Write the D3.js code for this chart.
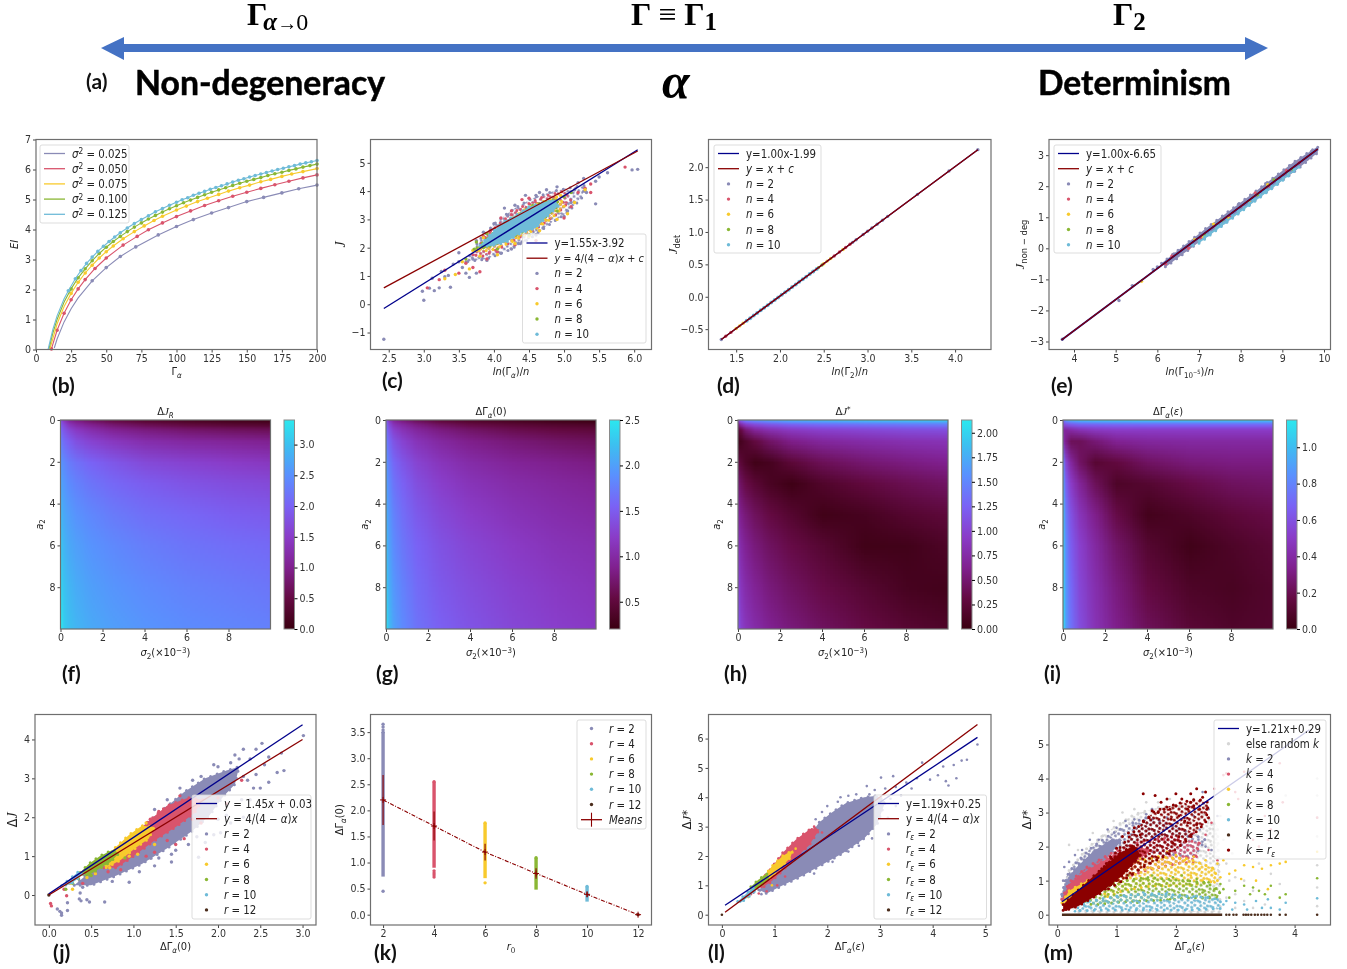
<!DOCTYPE html>
<html>
<head>
<meta charset="utf-8">
<script src="https://cdnjs.cloudflare.com/ajax/libs/d3/7.8.5/d3.min.js"></script>
<style>
html, body { margin:0; padding:0; background:#fff; }
#wrap { position:relative; width:1347px; height:969px; filter:blur(0.45px); }
canvas, svg { position:absolute; left:0; top:0; }
text { font-family:"DejaVu Sans Condensed","DejaVu Sans",sans-serif; fill:#222; }
</style>
</head>
<body>
<div id="wrap"><canvas id="heat" width="1347" height="969"></canvas><svg width="1347" height="969"></svg></div>
<script>
// colours
var cGray = "#8a8bb6", cRed = "#d9546c", cYellow = "#f8ca2c", cGreen = "#8ab734", cBlue = "#6fbbd8", cBrown = "#4b2d1c";
var cFit = "#00008b", cTheory = "#8b0000", cElse = "#d6d6d6";

// (b) EI curves, [gamma, EI]
var ei025 = [[13,0.05],[15,0.35],[20,0.92],[25,1.36],[30,1.72],[40,2.29],[50,2.73],[60,3.1],[71,3.42],[87,3.82],[100,4.1],[112,4.33],[125,4.55],[137,4.73],[150,4.93],[162,5.07],[175,5.22],[187,5.36],[200,5.48]];
var ei050 = [[11,0.02],[15,0.64],[20,1.21],[25,1.66],[30,2.02],[35,2.33],[42,2.7],[50,3.05],[62,3.48],[72,3.77],[80,3.99],[90,4.22],[100,4.43],[110,4.62],[120,4.8],[130,4.96],[140,5.11],[150,5.24],[160,5.37],[170,5.49],[180,5.61],[190,5.72],[200,5.82]];
var ei075 = [[10,0.04],[15,0.85],[20,1.43],[25,1.87],[30,2.24],[35,2.55],[40,2.81],[45,3.05],[50,3.26],[55,3.45],[62,3.69],[70,3.93],[77,4.12],[84,4.3],[90,4.44],[100,4.65],[107,4.78],[115,4.93],[122,5.04],[130,5.17],[137,5.28],[145,5.39],[152,5.48],[160,5.59],[167,5.67],[175,5.77],[182,5.85],[190,5.93],[200,6.03]];
var ei100 = [[9.1,0],[12,0.55],[15,1],[20,1.58],[25,2.02],[30,2.39],[35,2.69],[40,2.96],[45,3.2],[50,3.41],[55,3.6],[60,3.77],[65,3.93],[70,4.08],[75,4.22],[80,4.35],[85,4.47],[90,4.58],[95,4.69],[100,4.79],[105,4.89],[110,4.98],[115,5.07],[120,5.16],[125,5.24],[130,5.32],[135,5.39],[140,5.47],[145,5.54],[150,5.61],[155,5.67],[160,5.73],[165,5.8],[170,5.86],[175,5.91],[180,5.97],[185,6.02],[190,6.08],[195,6.13],[200,6.18]];
var ei125 = [[8.6,0],[12,0.67],[15,1.12],[20,1.69],[23,1.96],[28,2.36],[32,2.63],[36,2.87],[40,3.08],[44,3.27],[48,3.44],[52,3.6],[56,3.75],[60,3.89],[65,4.05],[70,4.2],[75,4.33],[80,4.46],[85,4.59],[90,4.7],[95,4.81],[100,4.91],[104,4.99],[108,5.06],[112,5.14],[116,5.21],[120,5.27],[124,5.34],[128,5.4],[132,5.46],[136,5.52],[140,5.58],[144,5.64],[148,5.69],[152,5.75],[156,5.8],[160,5.85],[164,5.9],[168,5.95],[172,6],[176,6.04],[180,6.09],[184,6.13],[188,6.18],[192,6.22],[196,6.26],[200,6.3]];
var sigmaLabels = ["0.025", "0.050", "0.075", "0.100", "0.125"];

// (c) clouds and stray points
var cFitLine = [[2.43,-0.15],[6.05,5.46]];
var cTheoryLine = [[2.43,0.58],[6.05,5.42]];
var cGrayCloud = [[3.6,1.5],[3.8,2.3],[4.05,2.95],[4.3,3.4],[4.55,3.75],[4.85,4],[5.15,4.15],[5.3,4.2],[5.25,3.75],[5.05,3.25],[4.75,2.75],[4.5,2.3],[4.2,1.9],[3.9,1.6]];
var cRedCloud = [[3.7,1.75],[3.9,2.45],[4.15,3],[4.4,3.45],[4.7,3.8],[5,4],[5.1,3.7],[4.9,3.2],[4.65,2.75],[4.35,2.35],[4.1,2],[3.85,1.7]];
var cYellowCloud = [[3.75,1.9],[3.95,2.4],[4.2,2.95],[4.5,3.45],[4.9,3.8],[5.02,3.5],[4.8,3],[4.55,2.6],[4.25,2.2],[3.95,1.9]];
var cGreenCloud = [[3.76,2],[3.98,2.5],[4.25,3],[4.55,3.5],[4.9,3.72],[4.92,3.5],[4.7,3],[4.45,2.6],[4.15,2.25],[3.9,2]];
var cBlueCloud = [[3.8,2.08],[3.98,2.55],[4.12,2.9],[4.35,3.2],[4.5,3.45],[4.85,3.7],[4.93,3.5],[4.72,3.02],[4.6,2.7],[4.35,2.48],[4.18,2.2],[3.95,2.05]];
var cGrayPts = [[2.43,-1.24],[2.98,0.46],[3,0.14],[3.08,0.57],[3.12,0.92],[3.15,0.48],[3.22,0.58],[3.25,1.16],[3.3,0.97],[3.35,1.02],[3.38,0.6],[3.42,1.42],[3.5,1.5],[3.5,1.82],[3.55,1.3],[3.6,1.1],[3.65,0.95],[3.7,1.6],[3.75,1.1],[3.85,2.55],[4,2.85],[4.15,3.4],[4.3,3.5],[4.45,3.85],[4.65,3.95],[4.75,4.05],[4.85,3.7],[5,3.1],[5.1,3.6],[5.2,4.3],[5.28,4.45],[5.32,3.95],[5.45,3.55],[5.45,4.35],[5.3,4],[5.5,4.5],[5.62,4.65],[5.97,4.75],[6.05,4.77],[5.15,4.05],[4.9,4.15],[4.6,2.45],[4.4,2.2],[4.25,1.95],[4.6,3.85],[4.2,3.15],[3.95,2.6],[3.75,2.25],[3.9,1.55],[4.1,1.8],[4.35,2.15],[4.7,2.7],[5.05,3.3]];
var cRedPts = [[3.05,0.58],[3.22,0.87],[3.3,1.2],[3.5,1.1],[3.6,1.45],[3.7,1.3],[3.8,1.15],[3.9,1.6],[3.95,2.6],[4.1,3.05],[4.25,3.3],[4.4,3.7],[4.6,2.25],[5,3.05],[5.2,3.95],[5.3,4.1],[5.38,3.95],[5.38,4.25],[5.87,4.85],[5.1,3.45],[4.5,3.75],[3.85,2.4],[4.05,1.85],[4.3,2.1]];
var cYellowPts = [[3.3,0.9],[3.45,1.05],[3.55,1.5],[3.65,1.25],[3.8,1.7],[4.05,1.75],[4.3,2.15],[4.65,2.6],[4.9,3],[5.05,3.2],[5.15,3.6],[5.3,4.05],[4.95,3.85],[3.85,2.35],[3.7,1.9],[4.5,2.4]];
var cGreenPts = [[3.6,1.6],[3.75,2.2],[3.9,2.5],[4.05,1.95],[4.5,2.45],[4.9,3.3],[5,3.8],[5.1,3.95],[3.72,1.95]];

// (d)
var dFitLine = [[1.33,-0.66],[4.26,2.27]];
var dTheoryLine = [[1.33,-0.66],[4.26,2.27]];
var dGrayPts = [[1.33,-0.66],[4.26,2.27],[3.93,1.94],[3.57,1.58],[3.23,1.24],[3.17,1.18],[3.11,1.12],[3.05,1.06],[3,1.01],[2.95,0.96],[2.87,0.88],[2.83,0.84]];
var dRedPts = [[1.38,-0.61],[1.44,-0.55],[2.8,0.81],[2.75,0.76],[2.68,0.69],[2.62,0.63]];
var dYellowPts = [[1.5,-0.49],[1.54,-0.45],[1.58,-0.41],[2.72,0.73],[2.58,0.59],[2.5,0.51],[2.54,0.55]];
var dGreenPts = [[2.48,0.49],[2.44,0.45],[2.38,0.39]];
var dBluePts = [[1.62,-0.37],[1.66,-0.33],[1.7,-0.29],[1.74,-0.25],[1.78,-0.21],[1.82,-0.17],[1.86,-0.13],[1.9,-0.09],[1.94,-0.05],[1.98,-0.01],[2.02,0.03],[2.06,0.07],[2.1,0.11],[2.14,0.15],[2.18,0.19],[2.22,0.23],[2.26,0.27],[2.3,0.31],[2.34,0.35],[2.38,0.39],[2.42,0.43]];

// (e)
var eFitLine = [[3.7,-2.95],[9.85,3.2]];
var eTheoryLine = [[3.7,-2.95],[9.85,3.2]];
var eGrayBand = [[6.1,-0.48],[7.2,0.68],[8.4,1.88],[9.3,2.8],[9.85,3.28],[9.85,3.08],[9.3,2.48],[8.4,1.6],[7.2,0.4],[6.2,-0.6]];
var eBlueBand = [[7,0.24],[8,1.25],[9,2.26],[9.4,2.65],[9.4,2.6],[9,2.18],[8,1.17],[7,0.16]];
var eGrayPts = [[3.72,-2.93],[5.08,-1.68],[5.4,-1.2],[5.9,-0.68],[6,-0.6],[6.25,-0.42],[6.4,-0.18],[6.5,-0.2],[6.7,0.02],[6.9,0.2],[7.05,0.3],[7.2,0.45],[7.3,0.72],[7.5,0.78],[7.65,0.85],[7.85,1.25],[7.95,1.42],[8.1,1.35],[8.25,1.68],[8.45,1.7],[8.6,2.08],[8.75,2.05],[8.9,2.3],[9.05,2.35],[9.2,2.65],[9.35,2.62],[9.45,2.9],[9.6,2.88],[9.7,3.12],[9.83,3.17]];
var eRedPts = [[6.2,-0.5],[6.35,-0.25],[6.75,0],[7.05,0.33],[7.4,0.65],[7.75,1],[8.05,1.35],[8.35,1.78],[8.7,2],[9.1,2.5],[9.4,2.75]];
var eYellowPts = [[5.62,-1.06],[6.9,0.28],[7.1,0.38],[7.35,0.78],[7.7,0.98],[8.2,1.5],[8.65,2.05],[9.15,2.4]];
var eGreenPts = [[7.15,0.42],[7.55,0.9],[8.4,1.72],[8.8,2.2],[9.25,2.55]];
var eBluePts = [[6.85,0.1],[7.2,0.42],[7.45,0.72],[7.6,0.82],[7.95,1.2],[8.3,1.55],[8.55,1.82],[8.9,2.15],[9.3,2.55]];

// heatmap grid, sigma_2 along columns, a_2 along rows
var heatCols = [0,0.15,0.4,0.8,1.5,2.5,4,6,8,10];
var heatRows = [0,0.1,0.25,0.5,1,2,3,4.5,6,8,10];
var heatF = [
 [1.6,1.3,1.05,0.85,0.65,0.45,0.28,0.15,0.08,0.03],
 [1.8,1.5,1.2,1,0.8,0.6,0.42,0.28,0.2,0.15],
 [1.9,1.7,1.4,1.2,1,0.8,0.62,0.48,0.38,0.32],
 [2.05,1.85,1.65,1.45,1.25,1.05,0.9,0.78,0.7,0.64],
 [2.3,2.1,1.95,1.75,1.58,1.42,1.25,1.15,1.08,1.02],
 [2.55,2.42,2.28,2.15,2,1.85,1.68,1.58,1.5,1.42],
 [2.72,2.58,2.46,2.34,2.2,2.06,1.93,1.82,1.74,1.68],
 [2.9,2.75,2.64,2.52,2.4,2.27,2.14,2.05,1.96,1.9],
 [3.05,2.88,2.76,2.65,2.53,2.42,2.3,2.2,2.13,2.07],
 [3.2,3.03,2.9,2.78,2.66,2.55,2.44,2.35,2.28,2.22],
 [3.4,3.13,3,2.88,2.76,2.65,2.55,2.46,2.4,2.34]];
var heatG = [
 [1.5,1.1,0.9,0.75,0.6,0.45,0.35,0.28,0.23,0.2],
 [1.6,1.25,1,0.85,0.7,0.55,0.44,0.36,0.3,0.26],
 [1.65,1.35,1.12,0.98,0.83,0.68,0.56,0.47,0.41,0.36],
 [1.7,1.45,1.25,1.1,0.96,0.82,0.7,0.6,0.54,0.49],
 [1.82,1.6,1.42,1.27,1.12,0.98,0.86,0.77,0.7,0.65],
 [1.98,1.75,1.58,1.44,1.28,1.14,1.02,0.93,0.87,0.82],
 [2.05,1.85,1.68,1.54,1.38,1.24,1.12,1.03,0.97,0.92],
 [2.15,1.95,1.78,1.63,1.48,1.34,1.22,1.12,1.05,1],
 [2.25,2.02,1.85,1.7,1.55,1.42,1.3,1.2,1.12,1.07],
 [2.35,2.1,1.93,1.78,1.62,1.48,1.37,1.27,1.19,1.13],
 [2.5,2.2,2,1.84,1.68,1.54,1.43,1.32,1.24,1.18]];
var heatH = [
 [1,1.35,1.55,1.7,1.8,1.9,1.98,2.05,2.1,2.12],
 [0.8,1.05,1.25,1.35,1.45,1.55,1.6,1.65,1.68,1.7],
 [0.5,0.7,0.9,1.02,1.12,1.2,1.28,1.33,1.37,1.4],
 [0.24,0.32,0.52,0.68,0.8,0.9,0.97,1.02,1.07,1.09],
 [0.05,0.1,0.18,0.3,0.46,0.6,0.7,0.76,0.81,0.84],
 [0.34,0.24,0.14,0.05,0.1,0.25,0.4,0.5,0.57,0.63],
 [0.55,0.43,0.33,0.23,0.12,0.04,0.17,0.29,0.38,0.45],
 [0.74,0.61,0.52,0.42,0.31,0.2,0.05,0.1,0.2,0.27],
 [0.9,0.75,0.64,0.54,0.43,0.33,0.21,0.05,0.06,0.15],
 [1.05,0.87,0.76,0.66,0.54,0.44,0.33,0.21,0.1,0.07],
 [1.2,0.98,0.86,0.76,0.64,0.54,0.43,0.32,0.22,0.15]];
var heatI = [
 [0.7,0.95,1.05,1.1,1.12,1.13,1.14,1.14,1.14,1.14],
 [0.65,0.75,0.8,0.85,0.87,0.88,0.88,0.88,0.88,0.88],
 [0.55,0.58,0.62,0.65,0.66,0.67,0.68,0.68,0.68,0.68],
 [0.4,0.38,0.4,0.44,0.48,0.5,0.5,0.5,0.5,0.5],
 [0.45,0.32,0.22,0.22,0.28,0.35,0.38,0.39,0.39,0.39],
 [0.82,0.54,0.38,0.24,0.12,0.16,0.24,0.29,0.31,0.31],
 [0.92,0.66,0.5,0.36,0.22,0.08,0.11,0.18,0.23,0.25],
 [1.02,0.76,0.6,0.46,0.33,0.18,0.04,0.08,0.14,0.18],
 [1.07,0.82,0.65,0.52,0.39,0.25,0.11,0.03,0.08,0.13],
 [1.11,0.86,0.7,0.55,0.43,0.3,0.17,0.08,0.06,0.1],
 [1.15,0.89,0.73,0.58,0.45,0.33,0.22,0.13,0.09,0.1]];
var cmapStops = ["#3a0010","#640a42","#80208f","#8a3cc8","#7a62f5","#5a90ff","#3cc0f0","#2be8ee"];
var cmapPos = [0,0.147,0.294,0.44,0.588,0.735,0.882,1];

// (j)
var jFitLine = [[0,0.03],[3,4.38]];
var jTheoryLine = [[0,0],[3,4]];
var jGrayCloud = [[0.3,0.25],[0.6,0.8],[1,1.5],[1.3,2.1],[1.6,2.65],[1.85,3],[2.1,3.2],[2.25,3.3],[2.2,2.85],[2.05,2.5],[1.9,2.05],[1.7,1.65],[1.4,1.2],[1.1,0.8],[0.8,0.5],[0.5,0.25]];
var jRedCloud = [[0.65,0.7],[0.9,1.25],[1.15,1.85],[1.4,2.3],[1.65,2.5],[1.82,2.45],[1.72,2.1],[1.5,1.75],[1.25,1.4],[1,1],[0.8,0.7]];
var jYellowCloud = [[0.62,0.82],[0.75,1.15],[0.95,1.55],[1.1,1.78],[1.25,1.75],[1.18,1.45],[1.02,1.2],[0.85,0.9],[0.68,0.7]];
var jGreenCloud = [[0.37,0.58],[0.47,0.8],[0.6,1],[0.75,1.16],[0.83,1.08],[0.73,0.85],[0.6,0.68],[0.45,0.48]];
var jBlueCloud = [[0.15,0.24],[0.25,0.42],[0.35,0.6],[0.41,0.55],[0.33,0.4],[0.25,0.27]];
var jGrayPts = [[0.1,-0.36],[0.13,-0.42],[0.15,-0.46],[0.15,-0.52],[0.22,-0.2],[0.22,-0.4],[0.36,-0.1],[0.38,-0.15],[0.45,-0.12],[0.48,-0.18],[0.66,-0.18],[0.37,0.05],[0.4,0.2],[0.48,0.45],[0.6,0.45],[0.65,0.5],[0.75,0.35],[0.95,0.33],[1.07,0.6],[1.05,0.8],[1.25,0.75],[1.3,0.95],[1.45,0.85],[1.5,1.15],[1.65,1.3],[1.6,1.55],[1.77,0.97],[1.85,1.35],[1.95,1.55],[2.03,1.6],[2.15,1.85],[2.1,2.05],[2.3,2],[2.38,2.45],[2.28,2.45],[2.42,2.75],[2.5,2.75],[2.6,2.9],[2.7,3.15],[2.78,3.2],[2.75,3.65],[2.6,3.55],[2.52,3.9],[2.45,3.75],[2.38,3.5],[2.3,3.75],[2.2,3.6],[2.15,3.4],[2,3.3],[1.8,3.05],[1.7,2.95],[1.55,2.75],[1.65,2.4],[2.45,3.1],[2.55,3.35],[3.01,4.1],[1.95,3.35],[2.25,3.5],[2.1,2.7],[2.3,3.05],[2.35,2.95],[1.75,1.5],[2,1.95],[1.45,1.05],[1.2,0.95],[1.4,2.45],[1.25,2.2]];
var jRedPts = [[0.02,-0.22],[0.03,-0.28],[0.21,-0.02],[0.18,0.15],[0.4,0.3],[0.55,0.55],[0.7,0.6],[0.85,0.65],[1.15,1],[1.25,1.1],[1.4,1.4],[1.5,1.3],[1.6,1.45],[1.8,1.85],[2.0,2.5],[2.1,2.35],[2.28,2.95],[1.7,1.95],[1.2,1.95],[1.3,2.15],[1.55,2.55]];
var jYellowPts = [[0.28,0.15],[0.25,0.3],[0.45,0.45],[0.55,0.55],[0.72,0.7],[0.95,1],[1.05,1.05],[1.25,1.3],[1.15,1.85]];
var jGreenPts = [[0.2,0.15],[0.28,0.3],[0.35,0.42],[0.5,0.5],[0.9,0.95]];

// (k)
var kXs = [2,4,6,8,10,12];
var kLow = [0.73,0.9,0.7,0.48,0.25,0];
var kHigh = [3.5,2.55,1.76,1.09,0.54,0];
var kExtraGray = [0.45,3.54,3.6,3.65];
var kExtraRed = [0.72,0.76,0.8,0.84];
var kExtraYellow = [0.61];
var kMeans = [2.2,1.7,1.2,0.79,0.39,0];
var kErrs = [0.48,0.28,0.16,0.1,0.05,0];

// (l)
var lFitLine = [[0.06,0.32],[4.85,6.04]];
var lTheoryLine = [[0.06,0.08],[4.85,6.48]];
var lGrayCloud = [[0.7,0.85],[1.1,1.45],[1.5,2.3],[1.85,3.15],[2.1,3.5],[2.35,3.8],[2.7,4],[2.95,4.05],[3.1,3.85],[2.95,3.1],[2.7,2.6],[2.3,2.1],[1.9,1.7],[1.5,1.3],[1.1,0.95],[0.85,0.72]];
var lRedCloud = [[0.65,1],[0.9,1.5],[1.15,2.1],[1.4,2.55],[1.7,2.95],[1.85,2.9],[1.65,2.35],[1.4,1.95],[1.15,1.5],[0.95,1.15],[0.75,0.9]];
var lYellowCloud = [[0.8,1.3],[0.95,1.65],[1.15,2],[1.35,2.2],[1.3,1.95],[1.1,1.55],[0.95,1.3],[0.8,1.1]];
var lGreenCloud = [[0.55,0.95],[0.7,1.2],[0.85,1.4],[0.9,1.25],[0.75,1],[0.6,0.85]];
var lBlueCloud = [[0.3,0.45],[0.45,0.7],[0.6,0.95],[0.65,0.85],[0.5,0.6],[0.35,0.4]];
var lGrayPts = [[0.6,0.75],[0.75,0.7],[1.9,3.5],[2,3.7],[2.2,3.85],[2.4,4.05],[2.75,4.38],[2.9,4.25],[3.02,4.67],[3.25,4.72],[3.3,4.35],[3.5,4.5],[3.6,4.3],[3.7,4.65],[3.8,5.18],[3.95,4.6],[4.1,4.75],[4.2,5.05],[4.25,4.55],[4.45,4.65],[4.55,5.25],[4.65,5.28],[4.4,5.1],[4.3,4.4],[4.85,5.8],[3.4,4.05],[3.2,3.95],[3.1,4.3],[2.85,2.6],[2.6,2.35],[2.4,2.15],[2.1,1.8],[1.75,1.4],[3.3,3.7],[3.15,3.3],[1.65,2.85],[1.78,3.25],[2.25,4],[2.55,4.1],[2.8,4.1]];
var lRedPts = [[0.55,0.7],[0.7,0.72],[0.85,0.8],[1.05,1],[1.2,1.3],[1.55,2.65],[1.75,3],[1.9,2.8]];
var lYellowPts = [[0.5,0.6],[0.55,0.85],[0.7,1.15],[1.4,2.25],[0.95,1]];
var lCorner = [[0,0]];

// (m)
var mFitLine = [[0.08,0.38],[4.25,5.43]];
var mElseCloud = [[0.08,0.5],[0.2,1.3],[0.5,1.95],[0.9,2.5],[1.3,2.95],[1.7,3.15],[2.3,3.2],[2.7,2.6],[2.75,0.08],[0.35,0.08]];
var mGrayCloud = [[0.08,0.6],[0.15,1.1],[0.3,1.5],[0.6,2],[0.9,2.35],[1.2,2.65],[1.5,2.85],[1.75,2.75],[2.1,2.5],[2.5,2.2],[2.3,1.7],[1.8,1.8],[1.4,1.9],[1,1.5],[0.6,1],[0.3,0.6],[0.1,0.4]];
var mGrayDense = [[0.08,0.6],[0.15,1],[0.3,1.35],[0.6,1.85],[0.9,2.2],[1.1,2.2],[0.8,1.6],[0.5,1.1],[0.25,0.7],[0.1,0.45]];
var mRedCloud = [[0.08,0.45],[0.2,0.95],[0.5,1.4],[0.9,1.8],[1.4,2.15],[1.95,2.3],[2.4,2.1],[2.3,1.55],[2,1.5],[1.5,1.3],[1,1],[0.5,0.65],[0.2,0.35]];
var mRedDense = [[0.08,0.45],[0.2,0.9],[0.5,1.3],[0.9,1.7],[1.3,2],[1.6,1.9],[1.2,1.4],[0.8,1],[0.4,0.6],[0.15,0.4]];
var mYellowCloud = [[0.8,1.25],[1.2,1.5],[1.7,1.7],[2.2,1.65],[2.65,1.35],[2.7,1],[2.2,0.85],[1.6,0.85],[1.1,0.7],[0.8,0.5]];
var mYellowDense = [[0.08,0.35],[0.2,0.7],[0.5,1],[0.85,1.28],[1.05,1.1],[0.65,0.7],[0.3,0.4]];
var mGreenCloud = [[0.45,0.4],[0.6,0.65],[1,0.95],[1.5,1.1],[2,1.02],[2.5,0.95],[2.75,0.7],[2.7,0.48],[2.3,0.5],[1.7,0.42],[1.1,0.38],[0.6,0.28]];
var mBlueCloud = [[0.38,0.12],[0.5,0.38],[0.8,0.48],[1.2,0.58],[1.7,0.62],[2.2,0.55],[2.6,0.5],[2.75,0.4],[2.75,0.18],[2.2,0.14],[1.5,0.14],[0.8,0.14]];
var mDarkCloud = [[0.75,1.35],[1.05,1.95],[1.35,2.55],[1.65,3.05],[2,3.25],[2.35,3.4],[2.55,3.3],[2.5,2.7],[2.2,2.2],[1.9,1.8],[1.5,1.45],[1.1,1],[0.8,0.7]];
var mDarkDense = [[0.1,0.3],[0.4,0.8],[0.75,1.35],[1.05,1.8],[1.3,2.05],[1.4,1.75],[1.1,1.15],[0.7,0.6],[0.35,0.25],[0.1,0.1]];
var mBrownRun = [[0.08,0],[2.78,0]];
var mElsePts = [[0.2,2.05],[0.35,1.9],[0.6,2.4],[0.75,2.3],[0.95,2.75],[1.1,3],[1.3,3.1],[1.5,3.3],[1.7,3.3],[1.9,3.4],[2.3,3.4],[2.5,3.2],[2.75,2.9],[2.8,2.2],[2.85,1.5],[2.9,1],[2.85,0.5],[3,1.1],[3,0.6],[3,0.2],[3.15,1],[3.15,0.4],[3.3,0.7],[3.3,0.2],[3.4,1.5],[3.5,0.3],[3.6,1.2],[3.75,0.9],[3.85,3.5],[4.38,4],[4.38,3.5],[4.38,2.85],[4.38,2.3],[4.38,1.45],[4.38,0.8],[4.38,0.25],[2.9,2.3],[2.95,1.8],[3.2,2.4],[3.35,3.3],[3.55,2.1],[3.65,2.8]];
var mGrayPts = [[0.1,1],[0.12,1.4],[0.2,1.55],[0.3,1.75],[0.42,1.9],[0.55,2.2],[0.7,2.2],[0.85,2.5],[1,2.55],[1.15,2.75],[1.3,2.8],[1.5,2.95],[1.6,3.1],[1.8,2.6],[2,2.6],[2.2,2.3],[2.4,2.5],[2.5,2],[2.6,1.9],[2.3,1.75],[2.7,2.9],[2.45,3.6],[2.55,3.1],[2.3,2.9],[1.85,2.85],[2.1,2.05]];
var mRedPts = [[2.1,2.5],[2.3,2.4],[2.4,2.1],[2.5,2.35],[2.55,1.9],[2.6,2.7],[2.65,3.7],[2.7,1.6],[2.8,4.1],[2.85,4.15],[3.0,3.6],[3.05,3.4],[3.15,4.2],[3.3,2.2],[3.4,2.0],[3.5,2.9],[3.55,2.2],[3.6,2.5],[3.75,4.45],[3.8,3.3],[4.38,2.85],[2.2,1.9],[2.35,1.7],[1.8,2.2]];
var mYellowPts = [[1.7,1.7],[1.85,1.85],[2,1.75],[2.15,1.6],[2.3,1.7],[2.4,1.35],[2.5,1.6],[2.6,1.3],[2.65,0.95],[2.75,1.1],[2.8,1.6],[2.9,1.2],[3,1.3],[3.1,1.05],[3.15,1.45],[3.3,1.4],[3.35,1],[3.45,1.35],[3.55,0.75],[3.6,1.45],[3.75,1.5],[3.85,1.55],[4.38,1.85],[1.4,1.65],[2.25,1.15],[2.45,1],[2,1.3],[2.7,1.5]];
var mGreenPts = [[0.5,0.55],[1.2,1.15],[1.6,1.15],[1.95,1.1],[2.2,1],[2.35,1.05],[2.55,0.95],[2.65,0.75],[2.75,0.9],[2.8,0.75],[2.9,0.5],[3,0.7],[3.15,0.85],[3.25,0.6],[3.3,0.8],[3.4,0.7],[3.5,0.6],[3.6,0.85],[3.75,0.5],[3.85,0.6],[4.38,1.07],[2.45,0.65],[2.1,1.15],[1.35,0.35],[1.9,0.45]];
var mBluePts = [[0.3,0.1],[0.35,0.2],[0.45,0.35],[1,0.55],[1.45,0.65],[1.85,0.65],[2.35,0.55],[2.5,0.5],[2.7,0.45],[2.8,0.3],[2.85,0.4],[2.95,0.15],[3,0.35],[3.15,0.3],[3.2,0.15],[3.35,0.4],[3.45,0.2],[3.55,0.45],[3.6,0.2],[3.75,0.15],[3.85,0.35],[4.38,0.48]];
var mBrownPts = [[2.85,0],[2.9,0],[2.97,0],[3.02,0],[3.14,0],[3.18,0],[3.22,0],[3.27,0],[3.33,0],[3.38,0],[3.44,0],[3.49,0],[3.54,0],[3.6,0],[3.75,0],[3.85,0],[4.38,0]];
var mDarkPts = [[0.15,0.15],[0.9,1.7],[1,1.95],[1.1,2.3],[1.2,2.4],[1.3,2.55],[1.4,2.35],[1.45,2.75],[1.55,2.85],[1.6,3.05],[1.7,3],[1.75,3.3],[1.8,3.1],[1.9,3.1],[1.92,2.8],[2,3.2],[2.05,2.9],[2.1,3.4],[2.15,2.75],[2.2,3.1],[2.25,3.3],[2.3,3.2],[2.35,2.65],[2.4,3.1],[2.45,3.45],[2.5,3.6],[2.52,3.1],[2.55,2.85],[1.45,3.55],[1.65,3.5],[1.85,3.4],[2,3.55],[2.25,3.55],[2.35,3.7],[2.05,2.3],[2.25,2.35],[1.95,2.1],[2.2,2.7]];

var nLabels = ["2","4","6","8","10"];
var rLabels = ["2","4","6","8","10","12"];
var kLabels = ["2","4","6","8","10","12"];

var svg = d3.select("svg");
var ctx = document.getElementById("heat").getContext("2d");

// little text helpers
var it = function(s){ return '<tspan font-style="italic">' + s + '</tspan>'; };
var sub = function(s){ return '<tspan dy="2.5" font-size="72%">' + s + '</tspan><tspan dy="-2.5">\u200b</tspan>'; };
var sup = function(s){ return '<tspan dy="-3.5" font-size="72%">' + s + '</tspan><tspan dy="3.5">\u200b</tspan>'; };
var scriptJ = '<tspan style="font-family:\'Liberation Serif\'" font-style="italic">J</tspan>';

// speckle fill for the looser parts of a scatter, an uneven tile so it does not read as a grid
var speckleDots = [[1,1.5],[5.5,0.8],[9.5,2.2],[3.2,4.6],[7.6,5.2],[11.5,6.4],[1.4,8.2],[5.2,9.4],[9.4,9.6],[12.6,1.2]];
var speckle = function(color)
{
    var id = "sp" + color.slice(1);
    if (svg.select("#" + id).empty())
    {
        var pat = svg.append("defs").append("pattern").attr("id", id).attr("patternUnits", "userSpaceOnUse")
            .attr("width", 14).attr("height", 12).attr("patternTransform", "rotate(23)");
        pat.selectAll("circle").data(speckleDots).enter().append("circle")
            .attr("cx", function(d){ return d[0]; }).attr("cy", function(d){ return d[1]; })
            .attr("r", 1.4).attr("fill", color);
    }
    return "url(#" + id + ")";
}

var makeAxes = function(o)
{
    var g = svg.append("g");
    var x = d3.scaleLinear().domain(o.xDomain).range([o.left, o.right]);
    var y = d3.scaleLinear().domain(o.yDomain).range([o.bottom, o.top]);
    var axB = d3.axisBottom(x).tickValues(o.xTicks).tickSize(3).tickPadding(2).tickFormat(o.xFormat || d3.format("d"));
    var axL = d3.axisLeft(y).tickValues(o.yTicks).tickSize(3).tickPadding(2).tickFormat(o.yFormat || d3.format("d"));
    var layer = g.append("g");
    var gx = g.append("g").attr("transform", "translate(0," + o.bottom + ")").call(axB);
    var gy = g.append("g").attr("transform", "translate(" + o.left + ",0)").call(axL);
    g.selectAll(".tick text").attr("font-size", 10.5).attr("font-family", null).style("fill", "#333");
    g.selectAll(".tick line").attr("stroke", "#444");
    gx.select(".domain").remove();
    gy.select(".domain").remove();
    g.append("rect").attr("x", o.left).attr("y", o.top).attr("width", o.right - o.left).attr("height", o.bottom - o.top)
        .attr("fill", "none").attr("stroke", "#6e6e6e").attr("stroke-width", 1.2);
    g.append("text").attr("x", (o.left + o.right) / 2).attr("y", o.xLabelY).attr("text-anchor", "middle").attr("font-size", 11).html(o.xLabel);
    g.append("text").attr("transform", "translate(" + o.yLabelX + "," + (o.top + o.bottom) / 2 + ") rotate(-90)")
        .attr("text-anchor", "middle").attr("font-size", o.yLabelSize || 11).html(o.yLabel);
    return { g:layer, top:g, x:x, y:y };
}

var drawLine = function(p, pts, color, width, dash)
{
    var line = d3.line().x(function(d){ return p.x(d[0]); }).y(function(d){ return p.y(d[1]); });
    p.g.append("path").attr("d", line(pts)).attr("fill", "none").attr("stroke", color)
        .attr("stroke-width", width || 1.3).attr("stroke-dasharray", dash || null);
}

var drawDots = function(p, pts, color, r)
{
    p.g.append("g").selectAll("circle").data(pts).enter().append("circle")
        .attr("cx", function(d){ return p.x(d[0]); })
        .attr("cy", function(d){ return p.y(d[1]); })
        .attr("r", r || 1.7)
        .attr("fill", color);
}

// dense part of a scatter, a filled outline with a dotted rim
var drawCloud = function(p, poly, color, loose)
{
    var line = d3.line().x(function(d){ return p.x(d[0]); }).y(function(d){ return p.y(d[1]); }).curve(d3.curveLinearClosed);
    p.g.append("path").attr("d", line(poly)).attr("fill", loose ? speckle(color) : color)
        .attr("stroke", color).attr("stroke-width", 3).attr("stroke-linecap", "round").attr("stroke-dasharray", "0 7");
}

var makeLegend = function(p, o)
{
    var lg = p.top.append("g");
    lg.append("rect").attr("x", o.x).attr("y", o.y).attr("width", o.w).attr("height", o.h).attr("rx", 2)
        .attr("fill", "#fff").attr("fill-opacity", 0.8).attr("stroke", "#d4d4d4").attr("stroke-width", 0.8);
    o.rows.forEach(function(row, i)
    {
        var cy = o.y + o.first + i * o.step;
        if (row.kind == "line" || row.kind == "means")
        {
            lg.append("line").attr("x1", o.x + 4).attr("x2", o.x + 25).attr("y1", cy).attr("y2", cy).attr("stroke", row.color).attr("stroke-width", 1.3);
        }
        if (row.kind == "means")
        {
            lg.append("line").attr("x1", o.x + 14.5).attr("x2", o.x + 14.5).attr("y1", cy - 7).attr("y2", cy + 7).attr("stroke", row.color).attr("stroke-width", 1.1);
        }
        if (row.kind == "dot")
        {
            lg.append("circle").attr("cx", o.x + 14.5).attr("cy", cy).attr("r", 1.7).attr("fill", row.color);
        }
        lg.append("text").attr("x", o.x + 32).attr("y", cy + 4).attr("font-size", row.size || 11.4).html(row.label);
    });
}

var scatterRows = function(name, labels, colors)
{
    return labels.map(function(l, i){ return { kind:"dot", color:colors[i], label:name + " = " + l }; });
}

// ---- top banner
var drawBanner = function()
{
    var g = svg.append("g");
    g.append("rect").attr("x", 118).attr("y", 44).attr("width", 1132).attr("height", 8).attr("fill", "#4472c4");
    g.append("path").attr("d", "M101,48 L124,37 L124,60 Z").attr("fill", "#4472c4");
    g.append("path").attr("d", "M1268,48 L1245,37 L1245,60 Z").attr("fill", "#4472c4");
    var serif = "Liberation Serif";
    var gamma = function(x, html)
    {
        g.append("text").attr("x", x).attr("y", 25).style("font-family", serif).style("fill", "#000")
            .attr("font-size", 32).attr("font-weight", "bold").html(html);
    };
    gamma(247, 'Γ<tspan dx="-4" dy="5" font-size="25" font-style="italic">α</tspan><tspan font-size="20" font-weight="normal" letter-spacing="-1">→</tspan><tspan font-size="24" font-weight="normal">0</tspan>');
    gamma(631, 'Γ <tspan font-weight="normal">≡</tspan> Γ<tspan dy="5" font-size="25">1</tspan>');
    gamma(1113, 'Γ<tspan dy="5" font-size="25">2</tspan>');
    var head = function(x, w, s)
    {
        g.append("text").attr("x", x).attr("y", 95).style("font-family", "Lato").style("fill", "#000").style("stroke", "#000").style("stroke-width", 0.5)
            .attr("font-weight", "bold").attr("font-size", 34)
            .attr("textLength", w).attr("lengthAdjust", "spacingAndGlyphs").text(s);
    };
    head(135, 250, "Non-degeneracy");
    head(1038, 193, "Determinism");
    g.append("text").attr("x", 662).attr("y", 98).style("font-family", serif).style("fill", "#000").attr("font-style", "italic").attr("font-weight", "bold")
        .attr("font-size", 50).text("α");
}

var panelLabels = [["(a)",86,89,21],["(b)",52,393,21],["(c)",382,388,21],["(d)",717,393,21],["(e)",1051,393,21],
    ["(f)",62,681,21],["(g)",376,681,21],["(h)",724,681,21],["(i)",1044,681,21],
    ["(j)",53,960,21],["(k)",374,960,21],["(l)",708,960,21],["(m)",1044,960,21]];
var drawPanelLabels = function()
{
    svg.append("g").selectAll("text").data(panelLabels).enter().append("text")
        .attr("x", function(d){ return d[1]; }).attr("y", function(d){ return d[2]; })
        .attr("font-size", function(d){ return d[3]; })
        .style("font-family", "Lato").attr("font-weight", "bold").style("fill", "#111")
        .text(function(d){ return d[0]; });
}

// ---- heatmaps
var drawHeat = function(o)
{
    var x = d3.scaleLinear().domain([0, 10]).range([o.left, o.left + 210]);
    var y = d3.scaleLinear().domain([10, 0]).range([629, 420]);
    var color = d3.scaleLinear().domain(cmapPos.map(function(t){ return o.vmin + t * (o.vmax - o.vmin); })).range(cmapStops).clamp(true);

    // one canvas pixel per grid value, the browser smooths it when it scales up
    var src = document.createElement("canvas");
    src.width = heatCols.length; src.height = heatRows.length;
    var sctx = src.getContext("2d");
    o.grid.forEach(function(row, i)
    {
        row.forEach(function(v, j)
        {
            sctx.fillStyle = color(v);
            sctx.fillRect(j, i, 1, 1);
        });
    });
    ctx.imageSmoothingEnabled = true;
    for (var i = 0; i < heatRows.length - 1; i++)
    {
        for (var j = 0; j < heatCols.length - 1; j++)
        {
            var dx = Math.round(x(heatCols[j])), dx2 = Math.round(x(heatCols[j+1]));
            var dy = Math.round(y(heatRows[i])), dy2 = Math.round(y(heatRows[i+1]));
            ctx.drawImage(src, j + 0.5, i + 0.5, 1, 1, dx, dy, dx2 - dx, dy2 - dy);
        }
    }

    var p = makeAxes({ left:o.left, right:o.left + 210, top:420, bottom:629, xDomain:[0,10], yDomain:[10,0],
        xTicks:[0,2,4,6,8], yTicks:[0,2,4,6,8], xLabel:it("σ") + sub("2") + "(×10" + sup("−3") + ")", yLabel:it("a") + sub("2"),
        xLabelY:656, yLabelX:o.left - 18 });
    p.top.append("text").attr("x", o.left + 105).attr("y", 415).attr("text-anchor", "middle").attr("font-size", 11).html(o.title);

    // colour bar
    var cbX = o.left + 223.5, cbW = 10.5;
    var cb = d3.scaleLinear().domain([o.vmin, o.vmax]).range([629, 420]);
    var grad = svg.append("defs").append("linearGradient").attr("id", o.id).attr("x1", 0).attr("x2", 0).attr("y1", 1).attr("y2", 0);
    cmapPos.forEach(function(t, i){ grad.append("stop").attr("offset", t).attr("stop-color", cmapStops[i]); });
    svg.append("rect").attr("x", cbX).attr("y", 420).attr("width", cbW).attr("height", 209)
        .attr("fill", "url(#" + o.id + ")").attr("stroke", "#8a8a8a").attr("stroke-width", 1);
    var axc = svg.append("g").attr("transform", "translate(" + (cbX + cbW) + ",0)")
        .call(d3.axisRight(cb).tickValues(o.ticks).tickFormat(d3.format(o.fmt)).tickSize(3).tickPadding(2));
    axc.select(".domain").remove();
    axc.selectAll("text").attr("font-size", 10.5).attr("font-family", null).style("fill", "#333");
}

// ---- the panels
var makeChart = function()
{
    drawBanner();
    var f1 = d3.format(".1f");
    var yFit = function(s){ return it("y") + " = " + s; };
    var jSym = scriptJ;

    // (b)
    var b = makeAxes({ left:36, right:317, top:139.5, bottom:349.5, xDomain:[0,200], yDomain:[0,7],
        xTicks:d3.range(0,201,25), yTicks:d3.range(0,8), xLabel:"Γ" + sub(it("α")), yLabel:it("EI"), xLabelY:375, yLabelX:18 });
    var eiAll = [ei025, ei050, ei075, ei100, ei125];
    var bColors = [cGray, cRed, cYellow, cGreen, cBlue];
    eiAll.forEach(function(s, i)
    {
        drawLine(b, s, bColors[i], 1.1);
        drawDots(b, s.filter(function(d){ return d[1] > 1.8 || i == 1; }), bColors[i], 1.8);
    });
    makeLegend(b, { x:40, y:145, w:89, h:78, first:8.5, step:15.2,
        rows:sigmaLabels.map(function(l, i){ return { kind:"line", color:bColors[i], label:it("σ") + sup("2") + " = " + l }; }) });

    // (c)
    var c = makeAxes({ left:370.5, right:651.5, top:139.5, bottom:349.5, xDomain:[2.24,6.247], yDomain:[-1.6,5.825],
        xTicks:[2.5,3,3.5,4,4.5,5,5.5,6], yTicks:[-1,0,1,2,3,4,5], xFormat:f1,
        xLabel:it("ln") + "(Γ" + sub(it("α")) + ")/" + it("n"), yLabel:jSym, xLabelY:375, yLabelX:345, yLabelSize:14 });
    drawCloud(c, cGrayCloud, cGray, true); drawDots(c, cGrayPts, cGray);
    drawCloud(c, cRedCloud, cRed, true); drawDots(c, cRedPts, cRed);
    drawCloud(c, cYellowCloud, cYellow, true); drawDots(c, cYellowPts, cYellow);
    drawCloud(c, cGreenCloud, cGreen); drawDots(c, cGreenPts, cGreen);
    drawCloud(c, cBlueCloud, cBlue);
    drawLine(c, cFitLine, cFit); drawLine(c, cTheoryLine, cTheory);
    makeLegend(c, { x:522.5, y:234, w:123.5, h:109, first:9, step:15.2,
        rows:[{kind:"line", color:cFit, label:"y=1.55x-3.92"}, {kind:"line", color:cTheory, size:10.8, label:it("y") + " = 4/(4 − " + it("α") + ")" + it("x") + " + " + it("c")}]
            .concat(scatterRows(it("n"), nLabels, bColors)) });

    // (d)
    var d = makeAxes({ left:708.5, right:991, top:139.5, bottom:349.5, xDomain:[1.184,4.41], yDomain:[-0.814,2.427],
        xTicks:[1.5,2,2.5,3,3.5,4], yTicks:[-0.5,0,0.5,1,1.5,2], xFormat:f1, yFormat:f1,
        xLabel:it("ln") + "(Γ" + sub("2") + ")/" + it("n"), yLabel:jSym + sub("det"), xLabelY:375, yLabelX:677, yLabelSize:13 });
    drawDots(d, dGrayPts, cGray); drawDots(d, dRedPts, cRed); drawDots(d, dYellowPts, cYellow); drawDots(d, dGreenPts, cGreen); drawDots(d, dBluePts, cBlue, 2);
    drawLine(d, dFitLine, cFit); drawLine(d, dTheoryLine, cTheory);
    makeLegend(d, { x:714, y:145, w:107, h:108, first:8.5, step:15.2,
        rows:[{kind:"line", color:cFit, label:"y=1.00x-1.99"}, {kind:"line", color:cTheory, label:it("y") + " = " + it("x") + " + " + it("c")}]
            .concat(scatterRows(it("n"), nLabels, bColors)) });

    // (e)
    var e = makeAxes({ left:1049, right:1330.5, top:139.5, bottom:349.5, xDomain:[3.4,10.156], yDomain:[-3.258,3.504],
        xTicks:[4,5,6,7,8,9,10], yTicks:[-3,-2,-1,0,1,2,3],
        xLabel:it("ln") + "(Γ" + sub("10" + sup("−5")) + ")/" + it("n"), yLabel:jSym + sub("non − deg"), xLabelY:375, yLabelX:1024, yLabelSize:13 });
    drawCloud(e, eGrayBand, cGray);
    drawDots(e, eGrayPts, cGray); drawDots(e, eRedPts, cRed); drawDots(e, eYellowPts, cYellow); drawDots(e, eGreenPts, cGreen);
    drawCloud(e, eBlueBand, cBlue); drawDots(e, eBluePts, cBlue);
    drawLine(e, eFitLine, cFit, 1.8); drawLine(e, eTheoryLine, cTheory, 1.1);
    makeLegend(e, { x:1054, y:145, w:107, h:108, first:8.5, step:15.2,
        rows:[{kind:"line", color:cFit, label:"y=1.00x-6.65"}, {kind:"line", color:cTheory, label:it("y") + " = " + it("x") + " + " + it("c")}]
            .concat(scatterRows(it("n"), nLabels, bColors)) });

    // heatmaps
    drawHeat({ id:"cbF", left:60.5, grid:heatF, vmin:0, vmax:3.4, ticks:[0,0.5,1,1.5,2,2.5,3], fmt:".1f", title:"Δ" + jSym + sub(it("R")) });
    drawHeat({ id:"cbG", left:386, grid:heatG, vmin:0.2, vmax:2.5, ticks:[0.5,1,1.5,2,2.5], fmt:".1f", title:"ΔΓ" + sub(it("α")) + "(0)" });
    drawHeat({ id:"cbH", left:738, grid:heatH, vmin:0, vmax:2.13, ticks:[0,0.25,0.5,0.75,1,1.25,1.5,1.75,2], fmt:".2f", title:"Δ" + jSym + sup("*") });
    drawHeat({ id:"cbI", left:1063, grid:heatI, vmin:0, vmax:1.15, ticks:[0,0.2,0.4,0.6,0.8,1], fmt:".1f", title:"ΔΓ" + sub(it("α")) + "(" + it("ε") + ")" });

    var rowColors = [cGray, cRed, cYellow, cGreen, cBlue, cBrown];

    // (j)
    var j = makeAxes({ left:35, right:316, top:714.5, bottom:925, xDomain:[-0.164,3.159], yDomain:[-0.771,4.642],
        xTicks:[0,0.5,1,1.5,2,2.5,3], yTicks:[0,1,2,3,4], xFormat:f1,
        xLabel:"ΔΓ" + sub(it("α")) + "(0)", yLabel:"Δ" + jSym, xLabelY:950, yLabelX:17, yLabelSize:14 });
    drawCloud(j, jGrayCloud, cGray); drawDots(j, jGrayPts, cGray);
    drawCloud(j, jRedCloud, cRed); drawDots(j, jRedPts, cRed);
    drawCloud(j, jYellowCloud, cYellow); drawDots(j, jYellowPts, cYellow);
    drawCloud(j, jGreenCloud, cGreen); drawDots(j, jGreenPts, cGreen);
    drawCloud(j, jBlueCloud, cBlue);
    drawDots(j, [[0,0]], cBrown);
    drawLine(j, jFitLine, cFit); drawLine(j, jTheoryLine, cTheory);
    makeLegend(j, { x:192, y:795, w:119, h:124, first:8.5, step:15.2,
        rows:[{kind:"line", color:cFit, label:yFit("1.45" + it("x") + " + 0.03")}, {kind:"line", color:cTheory, label:yFit("4/(4 − " + it("α") + ")" + it("x"))}]
            .concat(scatterRows(it("r"), rLabels, rowColors)) });

    // (k)
    var k = makeAxes({ left:370.5, right:651.5, top:714.5, bottom:925, xDomain:[1.507,12.527], yDomain:[-0.198,3.838],
        xTicks:kXs, yTicks:[0,0.5,1,1.5,2,2.5,3,3.5], yFormat:f1,
        xLabel:it("r") + sub("0"), yLabel:"ΔΓ" + sub(it("α")) + "(0)", xLabelY:950, yLabelX:343 });
    kXs.forEach(function(xv, i)
    {
        drawDots(k, [[xv, kHigh[i]]], rowColors[i]);
        if (kHigh[i] > kLow[i])
        {
            drawLine(k, [[xv, kLow[i]], [xv, kHigh[i]]], rowColors[i], 3.4);
        }
    });
    drawDots(k, kExtraGray.map(function(v){ return [2, v]; }), cGray);
    drawDots(k, kExtraRed.map(function(v){ return [4, v]; }), cRed);
    drawDots(k, kExtraYellow.map(function(v){ return [6, v]; }), cYellow);
    drawLine(k, kXs.map(function(xv, i){ return [xv, kMeans[i]]; }), cTheory, 1.1, "4 1.5 1 1.5");
    kXs.forEach(function(xv, i)
    {
        drawLine(k, [[xv, kMeans[i] - kErrs[i]], [xv, kMeans[i] + kErrs[i]]], cTheory, 1.1);
        var px = k.x(xv), py = k.y(kMeans[i]);
        k.g.append("line").attr("x1", px - 3).attr("x2", px + 3).attr("y1", py).attr("y2", py).attr("stroke", cTheory).attr("stroke-width", 1);
        k.g.append("line").attr("x1", px).attr("x2", px).attr("y1", py - 3).attr("y2", py + 3).attr("stroke", cTheory).attr("stroke-width", 1);
    });
    makeLegend(k, { x:577, y:720, w:69, h:109, first:8.5, step:15.2,
        rows:scatterRows(it("r"), rLabels, rowColors).concat([{kind:"means", color:cTheory, label:it("Means")}]) });

    // (l)
    var l = makeAxes({ left:708.5, right:991, top:714.5, bottom:925, xDomain:[-0.254,5.107], yDomain:[-0.351,6.82],
        xTicks:[0,1,2,3,4,5], yTicks:[0,1,2,3,4,5,6],
        xLabel:"ΔΓ" + sub(it("α")) + "(" + it("ε") + ")", yLabel:"Δ" + jSym + "*", xLabelY:950, yLabelX:691, yLabelSize:13 });
    drawCloud(l, lGrayCloud, cGray); drawDots(l, lGrayPts, cGray, 1.3);
    drawCloud(l, lRedCloud, cRed); drawDots(l, lRedPts, cRed, 1.3);
    drawCloud(l, lYellowCloud, cYellow); drawDots(l, lYellowPts, cYellow, 1.3);
    drawCloud(l, lGreenCloud, cGreen);
    drawCloud(l, lBlueCloud, cBlue);
    drawDots(l, lCorner, cBrown, 1.3);
    drawLine(l, lFitLine, cFit); drawLine(l, lTheoryLine, cTheory);
    makeLegend(l, { x:874, y:795, w:112.5, h:124, first:8.5, step:15.2,
        rows:[{kind:"line", color:cFit, label:"y=1.19x+0.25"}, {kind:"line", color:cTheory, label:"y = 4/(4 − " + it("α") + ")" + it("x")}]
            .concat(scatterRows(it("r") + sub(it("ε")), rLabels, rowColors)) });

    // (m)
    var m = makeAxes({ left:1049, right:1330.5, top:714.5, bottom:925, xDomain:[-0.138,4.605], yDomain:[-0.303,5.88],
        xTicks:[0,1,2,3,4], yTicks:[0,1,2,3,4,5],
        xLabel:"ΔΓ" + sub(it("α")) + "(" + it("ε") + ")", yLabel:"Δ" + jSym + "*", xLabelY:950, yLabelX:1031, yLabelSize:13 });
    drawCloud(m, mElseCloud, cElse, true); drawDots(m, mElsePts, cElse, 1.3);
    drawCloud(m, mGrayCloud, cGray, true); drawCloud(m, mGrayDense, cGray); drawDots(m, mGrayPts, cGray, 1.3);
    drawCloud(m, mRedCloud, cRed, true); drawCloud(m, mRedDense, cRed); drawDots(m, mRedPts, cRed, 1.3);
    drawCloud(m, mYellowCloud, cYellow, true); drawCloud(m, mYellowDense, cYellow); drawDots(m, mYellowPts, cYellow, 1.3);
    drawCloud(m, mGreenCloud, cGreen, true); drawDots(m, mGreenPts, cGreen, 1.3);
    drawCloud(m, mBlueCloud, cBlue, true); drawDots(m, mBluePts, cBlue, 1.3);
    drawLine(m, mBrownRun, cBrown, 2.6); drawDots(m, mBrownPts, cBrown, 1.3);
    drawCloud(m, mDarkCloud, cTheory, true); drawCloud(m, mDarkDense, cTheory); drawDots(m, mDarkPts, cTheory, 1.5);
    drawLine(m, mFitLine, cFit);
    var mRows = [{kind:"line", color:cFit, label:"y=1.21x+0.29"}, {kind:"dot", color:cElse, label:"else random " + it("k")}]
        .concat(scatterRows(it("k"), kLabels, rowColors))
        .concat([{kind:"dot", color:cTheory, label:it("k") + " = " + it("r") + sub(it("ε"))}]);
    makeLegend(m, { x:1214, y:720, w:112, h:139, first:8.5, step:15.2, rows:mRows });

    drawPanelLabels();
}

makeChart();
</script>
</body>
</html>
